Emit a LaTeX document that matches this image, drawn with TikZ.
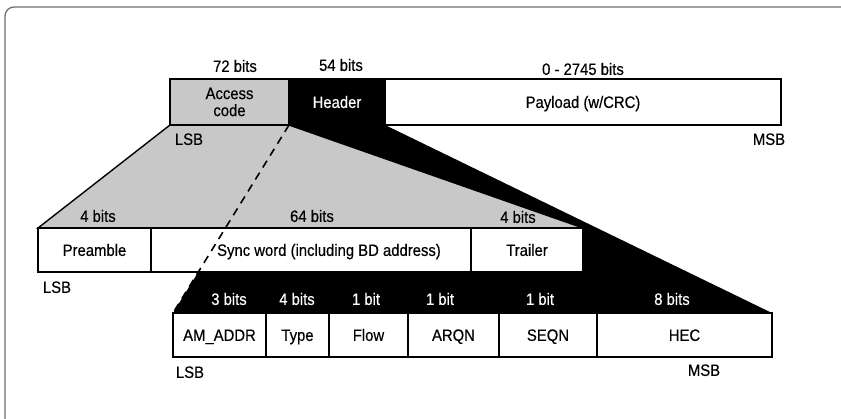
\documentclass[tikz,border=0pt]{standalone}
\usepackage{fontspec}
\setmainfont[FakeStretch=0.9,FakeBold=0.4]{Liberation Sans}
\usetikzlibrary{backgrounds}
\definecolor{lgray}{RGB}{200,200,200}
\definecolor{framec}{RGB}{110,110,110}
\newcommand{\diagfont}{\fontsize{16.5}{17}\selectfont}
\begin{document}
\begin{tikzpicture}[x=1pt,y=-1pt,
  box/.style={draw=black, line width=1.6pt, fill=white, inner sep=0pt, outer sep=0pt,
              anchor=north west, minimum height=44pt, font=\diagfont,
              text height=11.8pt, text depth=0pt},
  lbl/.style={inner sep=0pt, font=\diagfont, text height=11.8pt, text depth=0pt},
  wlbl/.style={lbl, text=white}]
\useasboundingbox (0,0) rectangle (841,419);
\begin{scope}
  \clip (0,0) rectangle (841,419);
  \draw[framec, line width=1.3pt, rounded corners=9pt] (5,7) rectangle (860,450);
\end{scope}
% top row
\node[box, fill=lgray, minimum width=119pt, minimum height=46pt, align=center,
      text height=, text depth=] (ac) at (170,79) {Access\\code};
\node[box, fill=black, text=white, minimum width=96pt, minimum height=46pt] (hd) at (289,79) {Header};
\node[box, minimum width=396pt, minimum height=46pt] (pl) at (385,79) {Payload (w/CRC)};
% middle row
\node[box, minimum width=113pt] (pre) at (38,228) {Preamble};
\node[box, minimum width=320pt] (sync) at (151,228) {};
\node[box, minimum width=112pt] (tr) at (471,228) {Trailer};
% bottom row
\node[box, minimum width=93pt] (am) at (173,313) {AM\_ADDR};
\node[box, minimum width=63pt] (ty) at (266,313) {Type};
\node[box, minimum width=79pt] (fl) at (329,313) {Flow};
\node[box, minimum width=91pt] (ar) at (408,313) {ARQN};
\node[box, minimum width=98pt] (sq) at (499,313) {SEQN};
\node[box, minimum width=175pt] (hec) at (597,313) {HEC};
% expansion wedges
\begin{scope}[on background layer]
  \fill[black] (ac.south east) -- (hd.south east) -- (hec.north east) -- (am.north west) -- cycle;
  \filldraw[fill=lgray, draw=black, line width=1.4pt, line join=miter]
    (ac.south west) -- (ac.south east) -- (tr.north east) -- (pre.north west) -- cycle;
\end{scope}
\draw[line width=1.6pt, dash pattern=on 8pt off 6pt] (ac.south east) -- (am.north west);
\node[lbl] (synct) at (329,250) {Sync word (including BD address)};
% bit labels
\node[lbl] (b72) at (235,66) {72 bits};
\node[lbl] (b54) at (341,65) {54 bits};
\node[lbl] (bpl) at (583,69) {0 - 2745 bits};
\node[lbl] (lsb1) at (189,139) {LSB};
\node[lbl] (msb1) at (769,139) {MSB};
\node[lbl] (bpre) at (98,216) {4 bits};
\node[lbl] (bsync) at (312,216) {64 bits};
\node[lbl] (btr) at (518,217) {4 bits};
\node[lbl] (lsb2) at (57,287) {LSB};
\node[wlbl] (bam) at (229,299) {3 bits};
\node[wlbl] (bty) at (297,299) {4 bits};
\node[wlbl] (bfl) at (366,299) {1 bit};
\node[wlbl] (bar) at (440,299) {1 bit};
\node[wlbl] (bsq) at (540,299) {1 bit};
\node[wlbl] (bhec) at (672,299) {8 bits};
\node[lbl] (lsb3) at (190,372) {LSB};
\node[lbl] (msb3) at (704,370) {MSB};
\end{tikzpicture}
\end{document}
